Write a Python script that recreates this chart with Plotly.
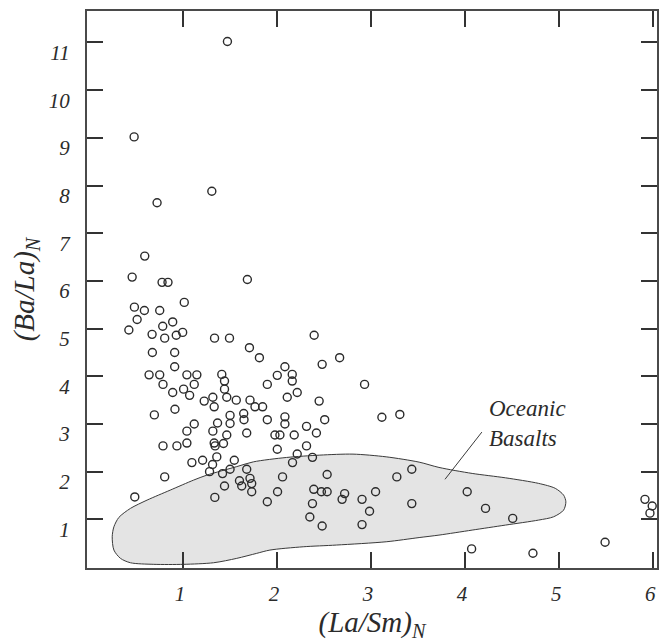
import plotly.graph_objects as go

# Chondrite-normalised ratios: (La/Sm)N on x, (Ba/La)N on y
la_sm = [
    1.473, 0.481, 1.307, 0.725, 0.594, 0.460, 0.778, 0.841, 1.685,
    1.014, 0.484, 0.590, 0.753, 0.513, 0.891, 0.785, 0.425, 0.672, 0.806,
    0.929, 0.997, 1.336, 1.495, 0.675, 0.912, 0.912, 0.640, 0.753, 1.042,
    1.148, 1.413, 0.788, 1.120, 1.442, 0.891, 1.007, 1.071, 1.442, 1.226,
    1.318, 1.332, 1.466, 1.567, 0.915, 0.696, 1.120, 1.042, 1.501, 1.501,
    1.368, 1.318, 1.646, 1.649, 1.766, 1.847, 1.713,
    1.466, 0.788, 0.936, 1.042, 1.332, 1.342, 1.431, 1.095, 1.209, 1.360,
    1.315, 1.546, 1.283, 1.421, 1.501, 0.806, 1.442, 0.488, 1.339,
    1.678, 1.978, 2.031, 2.183, 2.419, 2.003, 2.314, 2.215, 2.377, 2.165,
    1.678, 2.533, 2.059, 1.601, 1.713, 1.731, 1.625, 1.731, 2.006, 2.391,
    2.472, 2.533, 2.719, 2.692, 3.048, 1.897, 2.377, 2.904, 2.984, 2.349,
    2.480, 2.904,
    2.395, 1.707, 1.813, 2.666, 2.480, 2.084, 2.162, 2.003, 2.162, 1.897,
    2.931, 2.215, 2.109, 2.448, 1.897, 2.084, 2.084, 2.507, 2.314, 3.115,
    3.306,
    3.433, 3.274, 3.433, 4.022, 4.217, 4.506, 4.069, 4.721, 5.488, 5.912,
    5.989, 5.965,
]
ba_la = [
    11.02, 9.02, 7.88, 7.64, 6.52, 6.08, 5.97, 5.97, 6.03,
    5.55, 5.45, 5.38, 5.38, 5.19, 5.14, 5.05, 4.97, 4.88, 4.80,
    4.86, 4.92, 4.80, 4.80, 4.50, 4.50, 4.20, 4.03, 4.03, 4.03,
    4.03, 4.04, 3.83, 3.83, 3.90, 3.66, 3.73, 3.60, 3.73, 3.48,
    3.56, 3.36, 3.56, 3.50, 3.31, 3.19, 3.00, 2.85, 3.18, 3.01,
    3.02, 2.85, 3.22, 3.09, 3.36, 3.36, 3.50,
    2.77, 2.54, 2.54, 2.60, 2.60, 2.54, 2.59, 2.19, 2.24, 2.31,
    2.15, 2.24, 2.00, 1.96, 2.05, 1.89, 1.70, 1.47, 1.46,
    2.81, 2.77, 2.77, 2.77, 2.81, 2.47, 2.54, 2.37, 2.30, 2.19,
    2.05, 1.94, 1.89, 1.81, 1.86, 1.75, 1.70, 1.58, 1.58, 1.63,
    1.58, 1.58, 1.54, 1.42, 1.58, 1.37, 1.33, 1.42, 1.17, 1.05,
    0.86, 0.89,
    4.86, 4.60, 4.39, 4.39, 4.25, 4.20, 4.04, 4.02, 3.90, 3.83,
    3.83, 3.66, 3.56, 3.48, 3.09, 3.15, 3.00, 3.09, 2.95, 3.14,
    3.20,
    2.05, 1.89, 1.33, 1.58, 1.23, 1.02, 0.38, 0.29, 0.52, 1.42,
    1.28, 1.13,
]

# Outline of the oceanic basalt field (closed, smoothed with a spline)
field_x = [
    0.248, 0.266, 0.319, 0.442, 0.619, 0.865, 1.113, 1.254, 1.572, 1.749,
    2.102, 2.455, 2.808, 3.161, 3.511, 3.722, 4.075, 4.429, 4.782, 4.959,
    5.047, 5.071, 5.047, 4.941, 4.782, 4.429, 4.075, 3.722, 3.511, 3.161,
    2.631, 2.279, 1.925, 1.784, 1.572, 1.325, 1.007, 0.690, 0.442, 0.336,
    0.266, 0.248,
]
field_y = [
    0.635, 0.844, 1.041, 1.230, 1.404, 1.613, 1.823, 1.927, 2.106, 2.206,
    2.298, 2.347, 2.368, 2.311, 2.200, 2.089, 1.963, 1.871, 1.754, 1.650,
    1.508, 1.368, 1.194, 1.054, 0.985, 0.880, 0.775, 0.670, 0.618, 0.530,
    0.461, 0.425, 0.356, 0.287, 0.182, 0.090, 0.057, 0.057, 0.090, 0.182,
    0.356, 0.635,
]

x_ticks = [1, 2, 3, 4, 5, 6]
y_ticks = [1, 2, 3, 4, 5, 6, 7, 8, 9, 10, 11]

field_label = "Oceanic<br>Basalts"

SERIF = "Liberation Serif, Times New Roman, serif"
INK = "#2b2b2b"

fig = go.Figure()

fig.add_trace(go.Scatter(
    x=field_x, y=field_y,
    mode="lines",
    line=dict(color="#3a3a3a", width=1, shape="spline", smoothing=0.8),
    fill="toself",
    fillcolor="#e4e4e4",
    hoverinfo="skip",
    showlegend=False,
))

fig.add_trace(go.Scatter(
    x=la_sm, y=ba_la,
    mode="markers",
    marker=dict(symbol="circle-open", size=8, color=INK,
                line=dict(width=1.4, color=INK)),
    showlegend=False,
))

# leader line from the label to the field
fig.add_shape(type="line", xref="x", yref="y",
              x0=3.786, y0=1.84, x1=4.178, y1=2.83,
              line=dict(color="#3a3a3a", width=1))

fig.add_annotation(
    x=4.23, y=3.02, xref="x", yref="y",
    text=field_label, showarrow=False,
    xanchor="left", yanchor="middle", align="left",
    font=dict(family=SERIF, size=23, color=INK, style="italic"),
)

axis_common = dict(
    showgrid=False, zeroline=False,
    showline=True, linecolor="#4a4a4a", linewidth=2,
    mirror="ticks",
    ticks="inside", ticklen=16, tickwidth=1.5, tickcolor="#333333",
    tickfont=dict(family=SERIF, size=21, color=INK, style="italic"),
)

fig.update_xaxes(
    range=[-0.02, 6.04], tickvals=x_ticks, ticktext=[str(v) for v in x_ticks],
    ticklabelstandoff=6, ticklabelshift=-3,
    title=dict(text="(La/Sm)<sub>N</sub>", standoff=10,
               font=dict(family=SERIF, size=29, color=INK, style="italic")),
    **axis_common,
)
fig.update_yaxes(
    range=[-0.02, 11.66], tickvals=y_ticks, ticktext=[str(v) for v in y_ticks],
    ticklabelstandoff=11, ticklabelshift=10,
    title=dict(text="(Ba/La)<sub>N</sub>", standoff=6,
               font=dict(family=SERIF, size=29, color=INK, style="italic")),
    **axis_common,
)

fig.update_layout(
    width=661, height=642,
    margin=dict(l=87, r=2, t=11, b=74),
    paper_bgcolor="white", plot_bgcolor="white",
)

fig.write_html("out.html")
